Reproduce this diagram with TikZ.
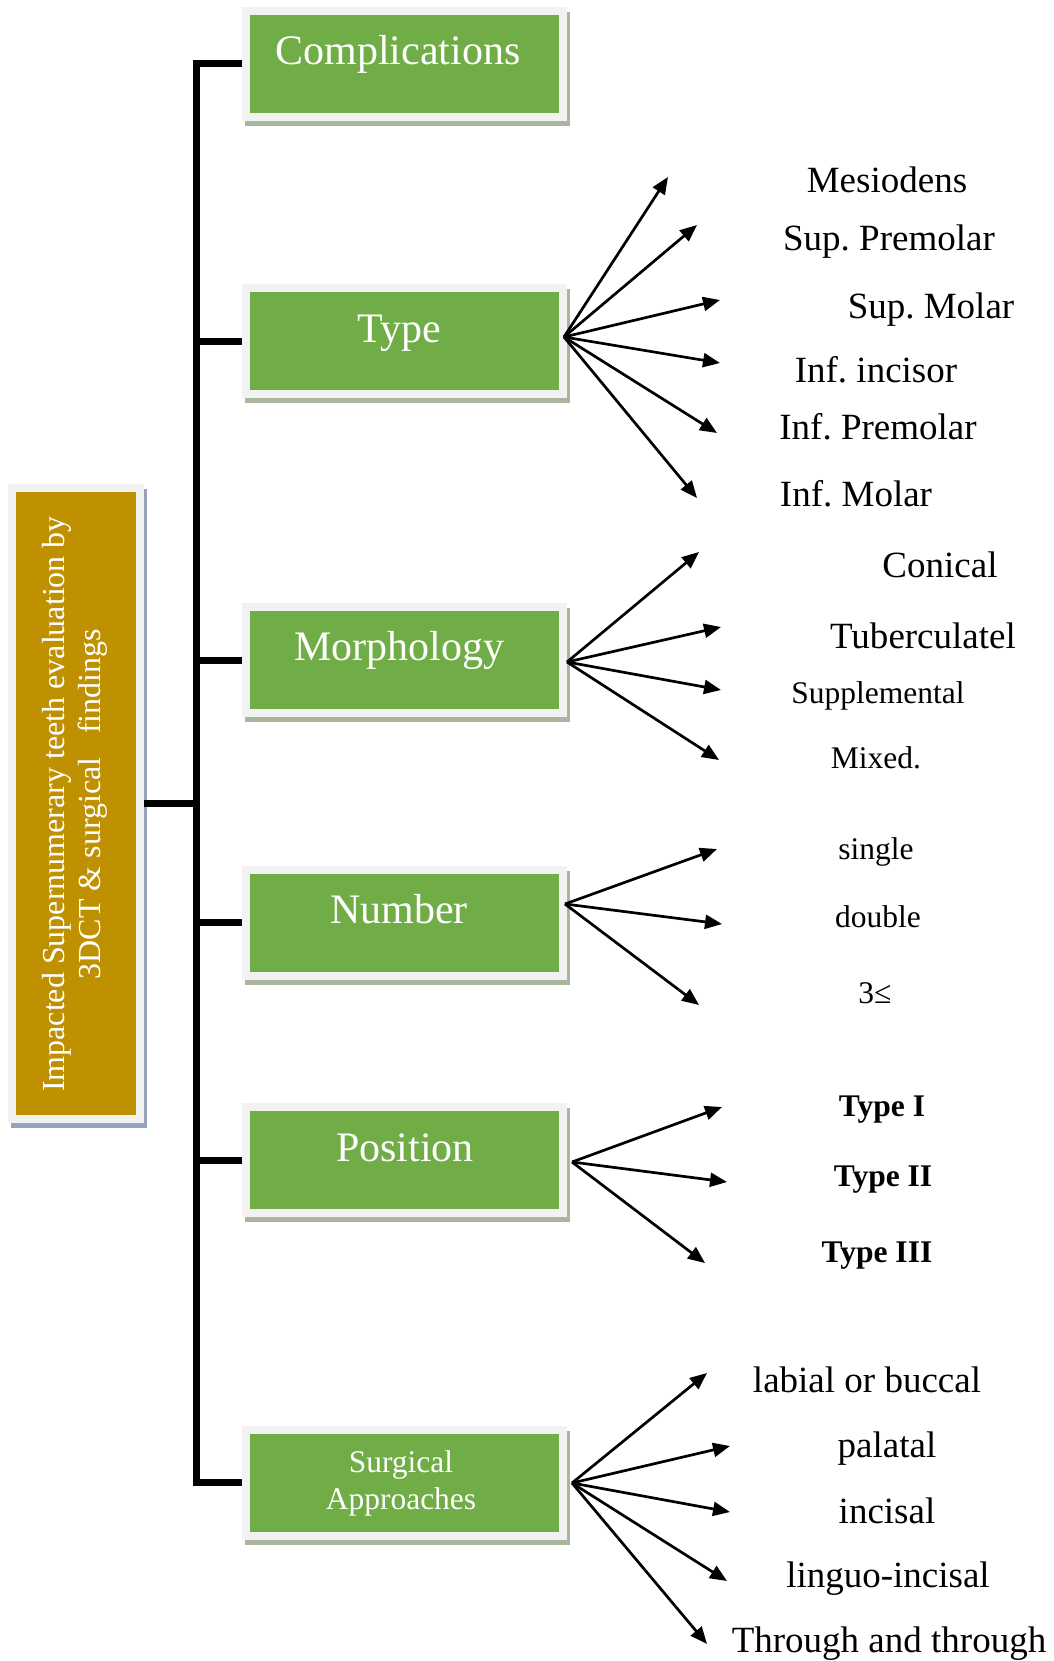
\documentclass[tikz,border=0pt]{standalone}
\usepackage{fontspec}
\setmainfont{Liberation Serif}
\usetikzlibrary{arrows.meta}
\definecolor{boxgreen}{HTML}{70AD47}
\definecolor{boxgold}{HTML}{BF9000}
\definecolor{boxrim}{HTML}{F2F2F2}
\definecolor{greenshadow}{HTML}{A9B59C}
\definecolor{goldshadow}{HTML}{95A3BB}
\frenchspacing
\begin{document}
\begin{tikzpicture}[x=1pt,y=-1pt,
  greenbox/.style={rectangle, fill=boxgreen, draw=boxrim, line width=8pt,
    minimum width=317pt, minimum height=106pt, inner sep=0pt},
  gshadow/.style={rectangle, fill=greenshadow, draw=none,
    minimum width=325pt, minimum height=114pt, inner sep=0pt},
  goldbox/.style={rectangle, fill=boxgold, draw=boxrim, line width=8pt,
    minimum width=128pt, minimum height=631pt, inner sep=0pt},
  goshadow/.style={rectangle, fill=goldshadow, draw=none,
    minimum width=136pt, minimum height=639pt, inner sep=0pt},
  boxtext/.style={text=white, font=\fontsize{42}{48}\selectfont, anchor=base, inner sep=0pt},
  lbl/.style={text=black, font=\fontsize{37}{42}\selectfont, inner sep=0pt},
  lbls/.style={text=black, font=\fontsize{31.5}{36}\selectfont, inner sep=0pt},
  lblb/.style={text=black, font=\bfseries\fontsize{31.5}{36}\selectfont, inner sep=0pt},
  tree/.style={line width=7pt, draw=black, line join=miter},
  arr/.style={line width=2.7pt, draw=black, -{Triangle[length=17pt,width=14pt]}}
]
\useasboundingbox (0,0) rectangle (1053,1661);

% shadows
\node[gshadow] (sComp) at (407.5,69) {};
\node[gshadow] (sType) at (407,346) {};
\node[gshadow] (sMorph) at (407,665) {};
\node[gshadow] (sNum) at (407,927.5) {};
\node[gshadow] (sPos) at (407,1165) {};
\node[gshadow] (sSurg) at (407,1487.5) {};
\node[goshadow] (sMain) at (79,808.5) {};

% boxes
\node[greenbox] (bComp) at (404.5,64) {};
\node[greenbox] (bType) at (404,341) {};
\node[greenbox] (bMorph) at (404,660) {};
\node[greenbox] (bNum) at (404,922.5) {};
\node[greenbox] (bPos) at (404,1160) {};
\node[greenbox] (bSurg) at (404,1482.5) {};
\node[goldbox] (bMain) at (76,803.5) {};

% box texts
\node[boxtext] (tComp) at (398,65) {Complications};
\node[boxtext] (tType) at (399,342) {Type};
\node[boxtext] (tMorph) at (399,660) {Morphology};
\node[boxtext] (tNum) at (399,923) {Number};
\node[boxtext] (tPos) at (405,1161) {Position};
\node[text=white, font=\fontsize{31.5}{37}\selectfont, align=center, inner sep=0pt] (tSurg) at (401,1483) {Surgical\\Approaches};
\node[text=white, font=\fontsize{32}{36}\selectfont, align=center, rotate=90, inner sep=0pt] (tMain) at (75,804)
  {Impacted Supernumerary teeth evaluation by\\3DCT \& surgical\ \ \ findings};

% tree
\coordinate (tTop) at (196,64);
\coordinate (tBot) at (196,1482.5);
\draw[tree] (bComp.west) -- (tTop) -- (tBot) -- (bSurg.west);
\draw[tree] (bType.west) -- (bType.west -| tTop);
\draw[tree] (bMorph.west) -- (bMorph.west -| tTop);
\draw[tree] (bNum.west) -- (bNum.west -| tTop);
\draw[tree] (bPos.west) -- (bPos.west -| tTop);
\draw[tree] (bMain.east) -- (bMain.east -| tTop);

% Type
\coordinate (oType) at (564,337);
\coordinate (aT1) at (668,177);
\coordinate (aT2) at (697,225);
\coordinate (aT3) at (720,300);
\coordinate (aT4) at (720,363);
\coordinate (aT5) at (717,433);
\coordinate (aT6) at (697,498);
\foreach \t in {aT1,aT2,aT3,aT4,aT5,aT6} \draw[arr] (oType) -- (\t);
\node[lbl] (lT1) at (887,180) {Mesiodens};
\node[lbl] (lT2) at (889,242) {Sup. Premolar};
\node[lbl] (lT3) at (931,310) {Sup. Molar};
\node[lbl] (lT4) at (876,370) {Inf. incisor};
\node[lbl] (lT5) at (878,427) {Inf. Premolar};
\node[lbl] (lT6) at (856,494) {Inf. Molar};

% Morphology
\coordinate (oMorph) at (567,662);
\coordinate (aM1) at (699,552);
\coordinate (aM2) at (721,627);
\coordinate (aM3) at (721,690);
\coordinate (aM4) at (719,760);
\foreach \t in {aM1,aM2,aM3,aM4} \draw[arr] (oMorph) -- (\t);
\node[lbl] (lM1) at (940,565) {Conical};
\node[lbl] (lM2) at (923,636) {Tuberculatel};
\node[lbls] (lM3) at (878,696) {Supplemental};
\node[lbls] (lM4) at (876,758) {Mixed.};

% Number
\coordinate (oNum) at (565,904);
\coordinate (aN1) at (717,849);
\coordinate (aN2) at (722,924);
\coordinate (aN3) at (699,1005);
\foreach \t in {aN1,aN2,aN3} \draw[arr] (oNum) -- (\t);
\node[lbls] (lN1) at (876,852) {single};
\node[lbls] (lN2) at (878,917) {double};
\node[lbls] (lN3) at (875,993) {3≤};

% Position
\coordinate (oPos) at (572,1162);
\coordinate (aP1) at (722,1107);
\coordinate (aP2) at (727,1182);
\coordinate (aP3) at (705,1263);
\foreach \t in {aP1,aP2,aP3} \draw[arr] (oPos) -- (\t);
\node[lblb] (lP1) at (882,1110) {Type I};
\node[lblb] (lP2) at (883,1180) {Type II};
\node[lblb] (lP3) at (877,1256) {Type III};

% Surgical
\coordinate (oSurg) at (572,1483);
\coordinate (aS1) at (707,1373);
\coordinate (aS2) at (730,1446);
\coordinate (aS3) at (730,1512);
\coordinate (aS4) at (727,1581);
\coordinate (aS5) at (707,1644);
\foreach \t in {aS1,aS2,aS3,aS4,aS5} \draw[arr] (oSurg) -- (\t);
\node[lbl] (lS1) at (867,1380) {labial or buccal};
\node[lbl] (lS2) at (887,1449) {palatal};
\node[lbl] (lS3) at (887,1511) {incisal};
\node[lbl] (lS4) at (888,1579) {linguo-incisal};
\node[lbl] (lS5) at (889,1644) {Through and through};
\end{tikzpicture}
\end{document}
